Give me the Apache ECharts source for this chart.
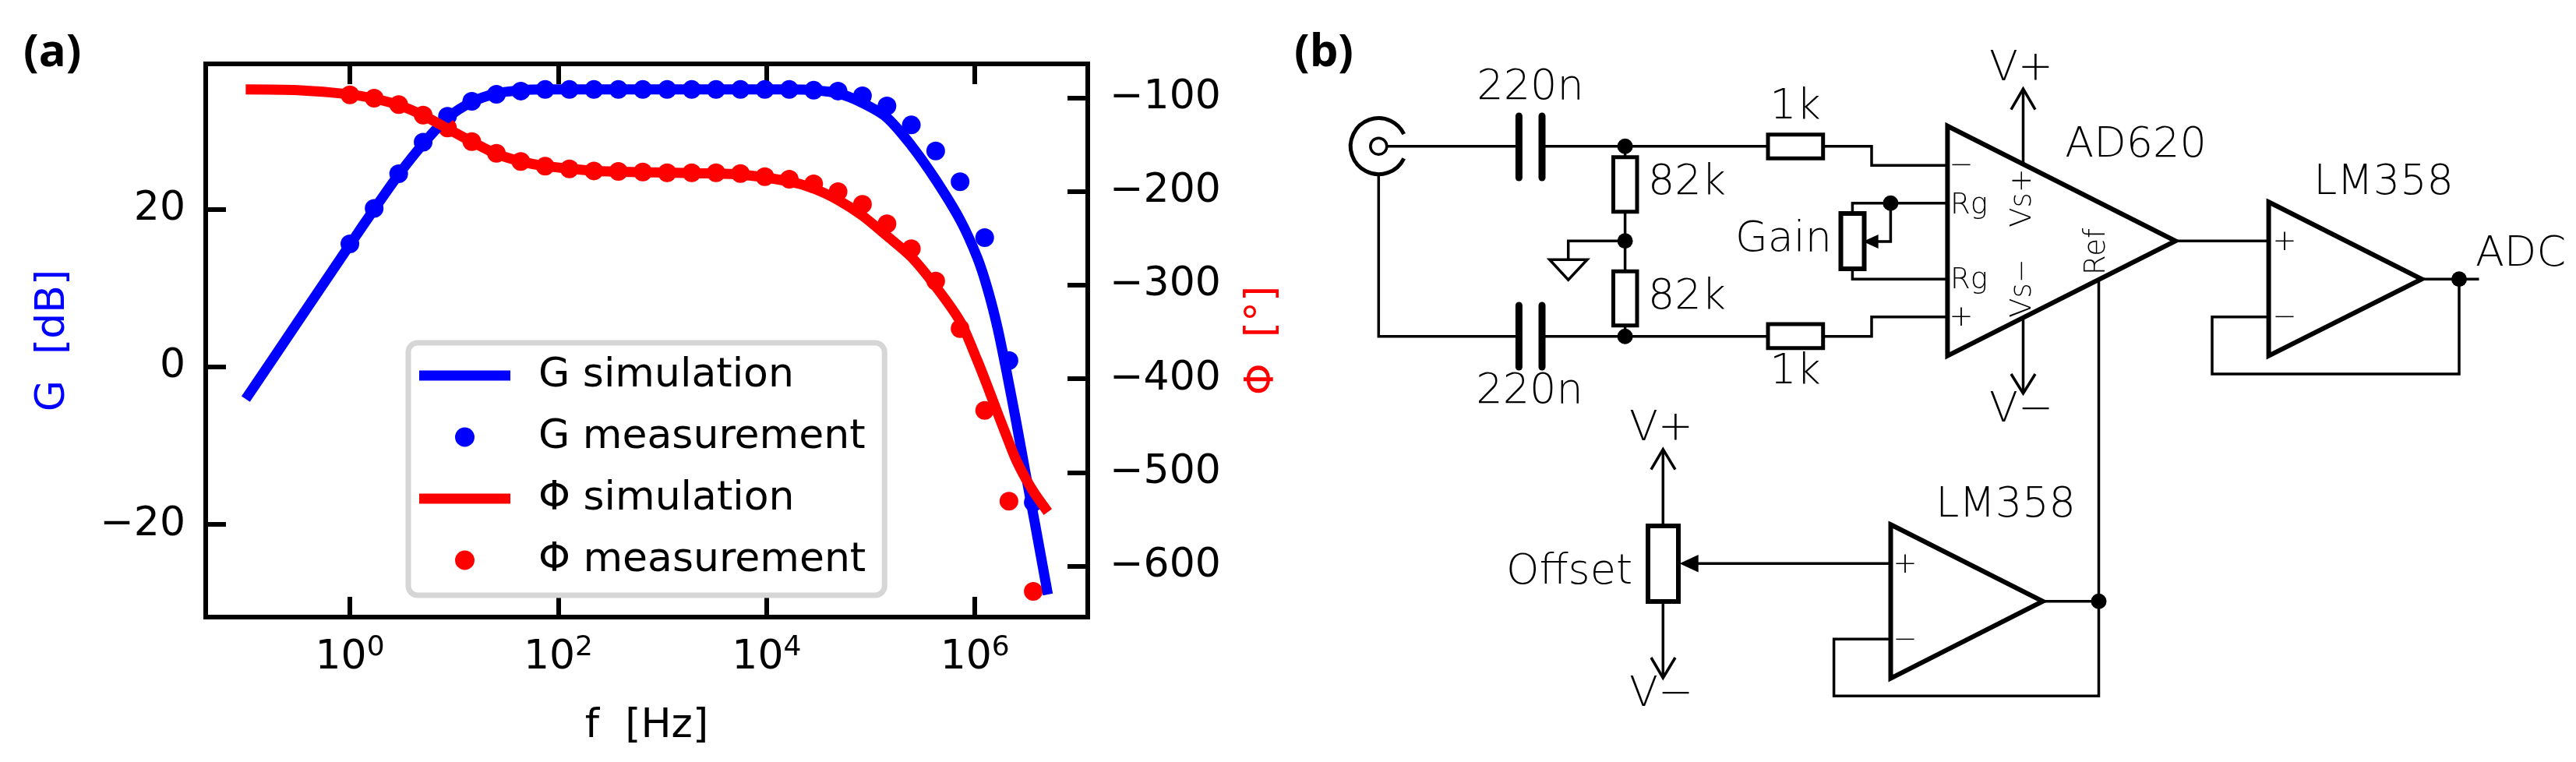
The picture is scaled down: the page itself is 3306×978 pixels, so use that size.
<!DOCTYPE html>
<html>
<head>
<meta charset="utf-8">
<title>Frequency response and circuit</title>
<script src="https://cdn.jsdelivr.net/npm/echarts@6/dist/echarts.min.js"></script>
<style>
  html, body { margin: 0; padding: 0; background: #fff; }
  #chart { width: 3306px; height: 978px; }
</style>
</head>
<body>
<div id="chart"></div>
<script>
// simulation curves, frequencies in Hz
const simFreq = [0.1, 0.316, 1, 1.71, 2.94, 5.05, 8.65, 14.8, 25.5, 43.7, 74.9, 220, 648, 1910, 5610, 16500, 28300, 49000, 83200, 141000, 245000, 417000, 724000, 1050000, 1320000, 1644000, 2010000, 2450000, 3090000, 3780000, 5010000]
const gSim = [-4.1, 5.7, 15.5, 20, 24.4, 28.3, 31.6, 33.6, 34.7, 35.1, 35.2, 35.2, 35.2, 35.2, 35.2, 35.2, 35.1, 34.7, 33.5, 31.7, 28.1, 23.8, 18.6, 13.9, 9.9, 5, -0.6, -6.5, -13.8, -20, -28.9]
const phiSim = [-91.2, -92, -96.5, -101, -108, -119, -133, -147, -160, -168, -173, -178, -179.5, -180.5, -182, -189.5, -197, -209.5, -226, -247, -270, -301, -339, -380, -408, -436, -461, -485, -507, -523, -542]

// measured points
const measFreq = [1, 1.71, 2.94, 5.05, 8.65, 14.8, 25.5, 43.7, 74.9, 128, 220, 378, 648, 1110, 1910, 3270, 5610, 9620, 16500, 28300, 48500, 83200, 143000, 245000, 420000, 720000, 1240000, 2120000, 3630000]
const gMeas = [15.6, 20.1, 24.5, 28.5, 31.8, 33.7, 34.6, 35, 35.2, 35.2, 35.2, 35.2, 35.2, 35.2, 35.2, 35.2, 35.2, 35.2, 35.2, 35.1, 35, 34.4, 33.1, 30.7, 27.4, 23.5, 16.4, 0.8, -17.2]
const phiMeas = [-97, -100.6, -107.5, -118.6, -132.4, -146.9, -159.4, -168.2, -173.2, -176, -178.2, -178.7, -179.3, -180.1, -180.1, -180.1, -181, -184.3, -187, -192, -200.3, -213.9, -234.7, -261.3, -295.7, -346.4, -433.7, -530.6, -626.8]

// axis ticks
const freqTicks = [1, 100, 10000, 1000000]
const gTicks = [-20, 0, 20]
const phiTicks = [-600, -500, -400, -300, -200, -100]

const SCHEM_FONT = '200 FSIZEpx "DejaVu Sans"'
const WIRE = 3.5

const chart = echarts.init(document.getElementById('chart'))

function zip(xs, ys) {
  return xs.map((x, i) => [x, ys[i]])
}

function minus(v) {
  return String(v).replace('-', '\u2212')
}

// schematic helpers
function wire(points, width) {
  return {
    type: 'polyline',
    shape: { points },
    style: { stroke: '#000', lineWidth: width || WIRE, fill: null, lineJoin: 'miter' }
  }
}
function dot(cx, cy) {
  return { type: 'circle', shape: { cx, cy, r: 10 }, style: { fill: '#000' } }
}
function box(x1, y1, x2, y2, width) {
  return {
    type: 'rect',
    shape: { x: x1, y: y1, width: x2 - x1, height: y2 - y1 },
    style: { stroke: '#000', lineWidth: width || 5, fill: '#fff' }
  }
}
function opamp(x, top, bottom, tipX, tipY) {
  return {
    type: 'polygon',
    shape: { points: [[x, top], [tipX, tipY], [x, bottom]] },
    style: { stroke: '#000', lineWidth: 6, fill: '#fff', lineJoin: 'miter' }
  }
}
function solidArrow(points) {
  return { type: 'polygon', shape: { points }, style: { fill: '#000' } }
}
function plate(x, y1, y2) {
  return {
    type: 'line',
    shape: { x1: x, y1, x2: x, y2 },
    style: { stroke: '#000', lineWidth: 9, lineCap: 'round' }
  }
}
function label(text, cx, cy, size, rotate) {
  return {
    type: 'text',
    x: cx,
    y: cy,
    rotation: rotate ? Math.PI / 2 : 0,
    style: {
      text,
      x: 0,
      y: 0,
      align: 'center',
      verticalAlign: 'middle',
      fill: '#000',
      font: SCHEM_FONT.replace('FSIZE', size || 54)
    }
  }
}
function panel(text, x) {
  return {
    type: 'text',
    x,
    y: 68,
    style: { text, x: 0, y: 0, align: 'left', verticalAlign: 'middle', fill: '#000', font: 'bold 58px "Open Sans"' }
  }
}

function schematic() {
  return [
    panel('(a)', 30),
    panel('(b)', 1661),

    // input connector and coupling
    { type: 'arc', shape: { cx: 1769.3, cy: 187.7, r: 36, startAngle: 0.45, endAngle: Math.PI * 2 - 0.45 }, style: { stroke: '#000', lineWidth: 5, fill: null } },
    wire([[1780, 187.7], [1949, 187.7]]),
    wire([[1979, 187.7], [2269, 187.7]]),
    { type: 'circle', shape: { cx: 1769.3, cy: 187.7, r: 10.5 }, style: { stroke: '#000', lineWidth: 3.5, fill: '#fff' } },
    wire([[1769.3, 224], [1769.3, 431.7], [1949, 431.7]]),
    wire([[1979, 431.7], [2269, 431.7]]),
    plate(1949.4, 149, 228),
    plate(1979, 149, 228),
    plate(1949.4, 392, 471),
    plate(1979, 392, 471),

    // divider and ground
    wire([[2085.6, 187.7], [2085.6, 431.7]]),
    box(2070.5, 201.7, 2101, 271.7),
    box(2070.5, 348.3, 2101, 417.7),
    dot(2085.6, 187.7),
    dot(2085.6, 309.3),
    dot(2085.6, 431.7),
    wire([[2085.6, 309.3], [2012.7, 309.3], [2012.7, 333.3]]),
    { type: 'polygon', shape: { points: [[1988.7, 333.3], [2037, 333.3], [2012.7, 359.3]] }, style: { stroke: '#000', lineWidth: 3.5, fill: '#fff' } },

    // input resistors
    box(2269, 172.7, 2339.7, 203.3),
    box(2269, 416, 2339.7, 446.7),
    wire([[2339.7, 187.7], [2402, 187.7], [2402, 212.3], [2499.4, 212.3]]),
    wire([[2339.7, 431.7], [2402, 431.7], [2402, 406.7], [2499.4, 406.7]]),

    // gain pot
    wire([[2377.4, 274], [2377.4, 260.7], [2499.4, 260.7]]),
    wire([[2377.4, 345], [2377.4, 358.3], [2499.4, 358.3]]),
    box(2362.5, 274, 2392.5, 345, 6),
    dot(2426.4, 260.7),
    wire([[2426.4, 260.7], [2426.4, 310], [2405, 310]]),
    solidArrow([[2391, 310], [2410.6, 301], [2410.6, 319]]),

    // AD620
    wire([[2596.5, 212], [2596.5, 115]]),
    wire([[2581, 140.7], [2596.5, 114], [2612, 140.7]]),
    wire([[2596.5, 408], [2596.5, 504]]),
    wire([[2581, 480], [2596.5, 505], [2612, 480]]),
    wire([[2693.5, 358.3], [2693.5, 893.3], [2353.6, 893.3], [2353.6, 820.3], [2426.5, 820.3]]),
    opamp(2499.4, 161.7, 456.7, 2792, 309.3),
    wire([[2792, 309.3], [2911.6, 309.3]]),

    // output buffer
    wire([[3108, 358.3], [3181.5, 358.3]]),
    wire([[3156, 358.3], [3156, 480], [2839, 480], [2839, 406.7], [2911.6, 406.7]]),
    opamp(2911.6, 259.3, 456.7, 3108, 358.3),
    dot(3156, 358.3),

    // offset buffer
    wire([[2134.3, 673], [2134.3, 577]]),
    wire([[2119, 602.7], [2134.3, 576.7], [2150, 602.7]]),
    wire([[2134.3, 773], [2134.3, 869]]),
    wire([[2119, 844], [2134.3, 870], [2150, 844]]),
    box(2115, 675, 2154, 772, 6),
    wire([[2175, 723.3], [2426.5, 723.3]]),
    solidArrow([[2155.5, 723.3], [2179.7, 712], [2179.7, 734.5]]),
    wire([[2621.7, 771.7], [2693.5, 771.7]]),
    opamp(2426.5, 673.3, 870.7, 2621.7, 771.7),
    dot(2693.5, 771.7),

    // texts
    label('220n', 1964, 113),
    label('220n', 1963, 503),
    label('1k', 2304, 138),
    label('1k', 2304, 478),
    label('82k', 2165, 235),
    label('82k', 2165, 382),
    label('Gain', 2289, 308),
    label('AD620', 2741, 187),
    label('LM358', 3059, 235),
    label('LM358', 2574, 649),
    label('ADC', 3235, 327),
    label('Offset', 2014, 735),
    label('V+', 2594, 89),
    label('V\u2212', 2594, 527),
    label('V+', 2132, 551),
    label('V\u2212', 2132, 892),
    label('\u2212', 2517, 213, 37),
    label('Rg', 2527, 264, 37),
    label('Rg', 2527, 360, 37),
    label('+', 2517, 408, 37),
    label('+', 2932, 311, 37),
    label('\u2212', 2932, 408, 37),
    label('+', 2445, 725, 37),
    label('\u2212', 2445, 822, 37),
    label('Vs+', 2596, 254, 37, true),
    label('Vs\u2212', 2596, 370, 37, true),
    label('Ref', 2691, 323, 37, true)
  ]
}

const axisFont = { fontFamily: 'DejaVu Sans', fontSize: 52, color: '#000' }
const frame = { show: true, onZero: false, lineStyle: { color: '#000', width: 6, cap: 'square' } }
const xMin = 0.0413
const xMax = 12100000
const lineIcon = 'path://M0,0H117V13H0Z'

function yTicks(values, margin) {
  return {
    axisTick: { show: true, inside: true, length: 26, customValues: values, lineStyle: { color: '#000', width: 6 } },
    axisLabel: { ...axisFont, margin, customValues: values, formatter: minus }
  }
}

const option = {
  backgroundColor: '#fff',
  animation: false,
  grid: { left: 264, right: 3306 - 1396, top: 82, bottom: 978 - 792 },
  xAxis: [
    {
      type: 'log',
      min: xMin,
      max: xMax,
      logBase: 10,
      position: 'bottom',
      name: 'f  [Hz]',
      nameLocation: 'middle',
      nameGap: 114,
      nameTextStyle: axisFont,
      axisLine: frame,
      splitLine: { show: false },
      minorTick: { show: false },
      axisTick: { show: true, inside: true, length: 26, customValues: freqTicks, lineStyle: { color: '#000', width: 6 } },
      axisLabel: {
        margin: 22,
        customValues: freqTicks,
        formatter: v => '{base|10}{exp|' + Math.round(Math.log10(v)) + '}',
        rich: {
          base: { ...axisFont, lineHeight: 60 },
          exp: { ...axisFont, fontSize: 36, lineHeight: 36, verticalAlign: 'top' }
        }
      }
    },
    {
      type: 'log',
      min: xMin,
      max: xMax,
      logBase: 10,
      position: 'top',
      axisLine: frame,
      splitLine: { show: false },
      minorTick: { show: false },
      axisTick: { show: true, inside: true, length: 26, customValues: freqTicks, lineStyle: { color: '#000', width: 6 } },
      axisLabel: { show: false }
    }
  ],
  yAxis: [
    {
      type: 'value',
      min: -31.77,
      max: 38.45,
      position: 'left',
      name: 'G  [dB]',
      nameLocation: 'middle',
      nameGap: 170,
      nameRotate: 90,
      nameTextStyle: { ...axisFont, color: '#0000ff' },
      axisLine: frame,
      splitLine: { show: false },
      ...yTicks(gTicks, 26)
    },
    {
      type: 'value',
      min: -654.2,
      max: -64,
      position: 'right',
      name: '\u03a6  [\u00b0]',
      nameLocation: 'middle',
      nameGap: 198,
      nameRotate: 90,
      nameTextStyle: { ...axisFont, color: '#ff0000' },
      axisLine: frame,
      splitLine: { show: false },
      ...yTicks(phiTicks, 28)
    }
  ],
  legend: {
    orient: 'vertical',
    left: 524,
    top: 440,
    padding: [16, 24, 19, 14],
    itemWidth: 117,
    itemHeight: 25,
    itemGap: 27,
    backgroundColor: 'rgba(255,255,255,0.8)',
    borderColor: '#d6d6d6',
    borderWidth: 7,
    borderRadius: 12,
    textStyle: { ...axisFont, lineHeight: 30, padding: [0, 0, 0, 31] },
    data: [
      { name: 'G simulation', icon: lineIcon },
      { name: 'G measurement', icon: 'circle' },
      { name: '\u03a6 simulation', icon: lineIcon },
      { name: '\u03a6 measurement', icon: 'circle' }
    ]
  },
  graphic: { elements: schematic() },
  series: [
    {
      name: 'G simulation',
      type: 'line',
      data: zip(simFreq, gSim),
      symbol: 'none',
      smooth: 0.3,
      lineStyle: { color: '#0000ff', width: 13 },
      itemStyle: { color: '#0000ff' }
    },
    {
      name: 'G measurement',
      type: 'scatter',
      data: zip(measFreq, gMeas),
      symbolSize: 24,
      itemStyle: { color: '#0000ff', opacity: 1 }
    },
    {
      name: '\u03a6 simulation',
      type: 'line',
      yAxisIndex: 1,
      data: zip(simFreq, phiSim),
      symbol: 'none',
      smooth: 0.3,
      lineStyle: { color: '#ff0000', width: 13 },
      itemStyle: { color: '#ff0000' }
    },
    {
      name: '\u03a6 measurement',
      type: 'scatter',
      yAxisIndex: 1,
      data: zip(measFreq, phiMeas),
      symbolSize: 24,
      itemStyle: { color: '#ff0000', opacity: 1 }
    }
  ]
}

chart.setOption(option)
</script>
</body>
</html>
